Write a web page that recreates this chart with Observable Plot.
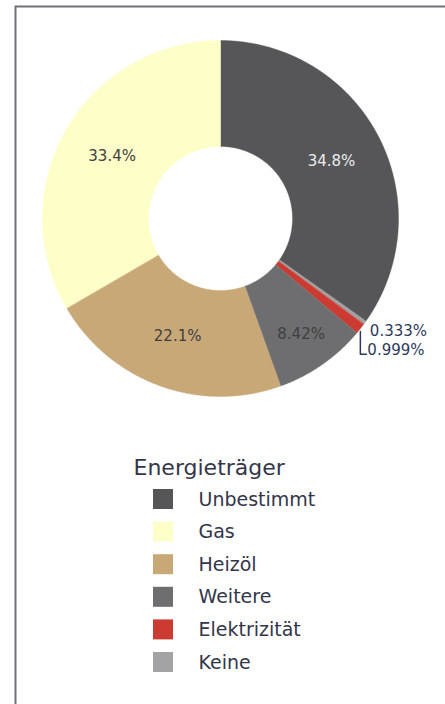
<!DOCTYPE html>
<html>
<head>
<meta charset="utf-8">
<script src="https://cdn.jsdelivr.net/npm/d3@7"></script>
<script src="https://cdn.jsdelivr.net/npm/@observablehq/plot@0.6"></script>
<style>
  html, body { margin: 0; padding: 0; background: #fff; }
  #chart svg { display: block; }
</style>
</head>
<body>
<div id="chart"></div>
<script>
// ---- data (legend order) ----
const categories = ["Unbestimmt", "Gas", "Heizöl", "Weitere", "Elektrizität", "Keine"];
const shares = [34.8, 33.4, 22.1, 8.42, 0.999, 0.333];
const colors = ["#565658", "#fefec8", "#c9a878", "#6e6e70", "#cc3b32", "#a3a3a6"];
const legendTitle = "Energieträger";

// ---- layout ----
const W = 445, H = 704;
const cx = 220, cy = 218, R = 178, r0 = 72;
const font = "DejaVu Sans, Verdana, sans-serif";

// slices clockwise from 12 o'clock: largest first, then the rest from smallest up
const order = [categories[0], ...categories.slice(1).reverse()];
const total = d3.sum(shares);
let acc = 0;
const slices = order.map(c => {
  const i = categories.indexOf(c);
  const a0 = acc / total * 2 * Math.PI;
  acc += shares[i];
  const a1 = acc / total * 2 * Math.PI;
  return {c, v: shares[i], label: shares[i] + "%", color: colors[i], a0, a1, mid: (a0 + a1) / 2};
});
const pt = (a, rad) => ({x: cx + rad * Math.sin(a), y: cy - rad * Math.cos(a)});

// ring polygons
const ringPts = [];
for (const s of slices) {
  const n = Math.max(2, Math.ceil((s.a1 - s.a0) / (Math.PI / 360)));
  for (let k = 0; k <= n; k++) ringPts.push({...pt(s.a0 + (s.a1 - s.a0) * k / n, R), c: s.c});
  for (let k = n; k >= 0; k--) ringPts.push({...pt(s.a0 + (s.a1 - s.a0) * k / n, r0), c: s.c});
}

// inside labels (plotly-like placement)
const ringFrac = 1 - r0 / R;
const inside = slices.filter(s => s.v / total >= 0.02).map(s => {
  const half = (s.a1 - s.a0) / 2;
  const rIns = Math.min(1 / (1 + 1 / Math.sin(half)), ringFrac / 2);
  const p = pt(s.mid, R * (1 - rIns));
  return {...p, label: s.label, dark: d3.lab(s.color).l < 40};
});

// outside labels for tiny slices, stacked downward with leader lines
const outside = [];
const leaders = [];
let prevBottom = -Infinity;
const lh = 19;
for (const s of slices.filter(s => s.v / total < 0.02)) {
  const p = pt(s.mid, R);
  let top = Math.max(p.y, prevBottom + 2);
  const shifted = top > p.y + 0.5;
  const x = p.x + (shifted ? 7 : 5);
  outside.push({x, y: top + lh / 2 - 1, label: s.label});
  if (shifted) {
    const ly = top + lh / 2 + 3;
    leaders.push({x: p.x, y: p.y + 3, g: s.c}, {x: p.x, y: ly, g: s.c}, {x: x - 1, y: ly, g: s.c});
  }
  prevBottom = top + lh - 2;
}

// legend
const legTop = 499, legStep = 32.6;
const legend = categories.map((c, i) => ({c, y: legTop + i * legStep}));

const chart = Plot.plot({
  width: W, height: H, margin: 0,
  x: {domain: [0, W], range: [0, W], axis: null},
  y: {domain: [0, H], range: [0, H], axis: null},
  color: {domain: categories, range: colors},
  style: {fontFamily: font, background: "#fff"},
  marks: [
    Plot.frame({stroke: "#70707a", strokeWidth: 2, insetLeft: 15, insetTop: 6, insetRight: -6, insetBottom: -6}),
    Plot.line(ringPts, {x: "x", y: "y", z: "c", fill: "c", stroke: "c", strokeWidth: 0.4, curve: "linear-closed"}),
    Plot.text(inside, {x: "x", y: "y", text: "label", fontSize: 15, fontFamily: font,
      fill: d => d.dark ? "#ececec" : "#404040"}),
    Plot.line(leaders, {x: "x", y: "y", z: "g", stroke: "#2f3a5a", strokeWidth: 1.5}),
    Plot.text(outside, {x: "x", y: "y", text: "label", fontSize: 15, fontFamily: font, textAnchor: "start", fill: "#2f3a5a"}),
    Plot.text([legendTitle], {x: 133, y: 467, text: d => d, fontSize: 22, fontFamily: font, textAnchor: "start", fill: "#33364a"}),
    Plot.rect(legend, {x1: 153, x2: 173, y1: d => d.y - 10, y2: d => d.y + 10, fill: "c"}),
    Plot.text(legend, {x: 198, y: "y", text: "c", fontSize: 19, fontFamily: font, textAnchor: "start", fill: "#33364a"})
  ]
});
document.getElementById("chart").appendChild(chart);
</script>
</body>
</html>
